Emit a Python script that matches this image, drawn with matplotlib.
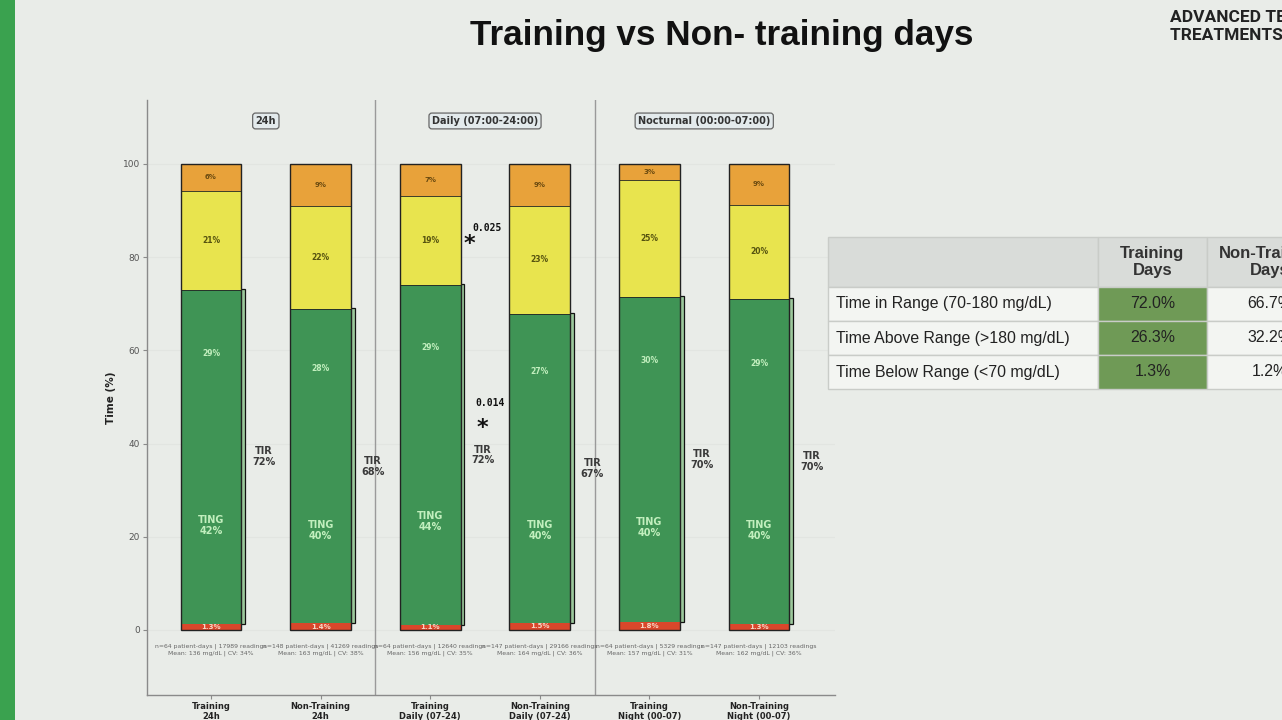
import matplotlib
matplotlib.use("Agg")
import matplotlib.pyplot as plt
from matplotlib.patches import Rectangle
import numpy as np

# ---------------- data ----------------
categories = ["Training\n24h", "Non-Training\n24h", "Training\nDaily (07-24)",
              "Non-Training\nDaily (07-24)", "Training\nNight (00-07)", "Non-Training\nNight (00-07)"]
tbr = [1.3, 1.4, 1.1, 1.5, 1.8, 1.3]          # below range (red)
ting = [42.3, 39.8, 44.2, 39.6, 40.2, 40.0]   # time in narrow range (green low)
titr = [29.4, 27.7, 28.7, 26.7, 29.5, 29.7]   # 140-180 (green high)
tar1 = [21.2, 22.1, 19.1, 23.2, 25.1, 20.2]   # yellow
tar2 = [5.8, 9.0, 6.9, 9.0, 3.4, 8.8]         # orange
tbr_lbl = ["1.3%", "1.4%", "1.1%", "1.5%", "1.8%", "1.3%"]
ting_lbl = ["42%", "40%", "44%", "40%", "40%", "40%"]
titr_lbl = ["29%", "28%", "29%", "27%", "30%", "29%"]
tar1_lbl = ["21%", "22%", "19%", "23%", "25%", "20%"]
tar2_lbl = ["6%", "9%", "7%", "9%", "3%", "9%"]
tir_lbl = ["72%", "68%", "72%", "67%", "70%", "70%"]
info = ["n=64 patient-days | 17989 readings\nMean: 136 mg/dL | CV: 34%",
        "n=148 patient-days | 41269 readings\nMean: 163 mg/dL | CV: 38%",
        "n=64 patient-days | 12640 readings\nMean: 156 mg/dL | CV: 35%",
        "n=147 patient-days | 29166 readings\nMean: 164 mg/dL | CV: 36%",
        "n=64 patient-days | 5329 readings\nMean: 157 mg/dL | CV: 31%",
        "n=147 patient-days | 12103 readings\nMean: 162 mg/dL | CV: 36%"]
groups = ["24h", "Daily (07:00-24:00)", "Nocturnal (00:00-07:00)"]
pvals = ["0.025", "0.014"]
pval_y = [86.3, 48.7]
yticks = [0, 20, 40, 60, 80, 100]

tbl_rows = ["Time in Range (70-180 mg/dL)", "Time Above Range (>180 mg/dL)", "Time Below Range (<70 mg/dL)"]
tbl_cols = ["", "Training\nDays", "Non-Training\nDays"]
tbl_train = ["72.0%", "26.3%", "1.3%"]
tbl_non = ["66.7%", "32.2%", "1.2%"]

# ---------------- style ----------------
BG = "#e9ece8"
C_RED = "#d9472b"
C_GREEN = "#3f9455"
C_YEL = "#e8e44e"
C_ORA = "#e8a23a"

fig = plt.figure(figsize=(12.82, 7.2), dpi=100, facecolor=BG)

# left green strip
fig.patches.append(Rectangle((0, 0), 15 / 1282, 1, transform=fig.transFigure,
                             facecolor="#3aa24f", edgecolor="none", zorder=0))

# title & logo
fig.text(0.563, 0.951, "Training vs Non- training days", ha="center", va="center",
         fontsize=25.3, fontweight="bold", family="Liberation Sans", color="#111111")
for txt, yy in [("ADVANCED TECHNOLOGIES &", 0.976), ("TREATMENTS FOR DIABETES", 0.951)]:
    fig.text(1170 / 1282, yy, txt, ha="left", va="center", fontsize=12.5, fontweight="bold",
             family="Roboto", color="#222222")

# ---------------- main chart ----------------
ax = fig.add_axes([147 / 1282, 1 - 695 / 720, (835 - 147) / 1282, (695 - 100) / 720])
ax.set_facecolor(BG)
x = np.arange(len(categories))
w = 0.555
tbr_a = np.array(tbr); ting_a = np.array(ting); titr_a = np.array(titr)
tar1_a = np.array(tar1); tar2_a = np.array(tar2)
b1 = tbr_a
b2 = b1 + ting_a
b3 = b2 + titr_a
b4 = b3 + tar1_a

# offset shadow outline around TIR
for i in range(len(x)):
    ax.add_patch(Rectangle((x[i] - w / 2 + 0.035, b1[i]), w, ting_a[i] + titr_a[i] + 0.2,
                           facecolor="#9cc89c", edgecolor="#111111", lw=0.9, zorder=2))

kw = dict(width=w, edgecolor="none", zorder=3)
ax.bar(x, tbr_a, color=C_RED, **kw)
ax.bar(x, ting_a, bottom=b1, color=C_GREEN, **kw)
ax.bar(x, titr_a, bottom=b2, color=C_GREEN, **kw)
ax.bar(x, tar1_a, bottom=b3, color=C_YEL, **kw)
ax.bar(x, tar2_a, bottom=b4, color=C_ORA, **kw)
# outline
ax.bar(x, b4 + tar2_a, width=w, facecolor="none", edgecolor="#222222", lw=1.0, zorder=4)
ax.bar(x, b4 - b3, bottom=b3, width=w, facecolor="none", edgecolor="#222222", lw=0.6, zorder=4)

for i in range(len(x)):
    ax.text(x[i], b1[i] / 2, tbr_lbl[i], ha="center", va="center", fontsize=5,
            color="#f6d7c6", fontweight="bold", zorder=5)
    ax.text(x[i], (b1[i] + b2[i]) / 2, "TING\n" + ting_lbl[i], ha="center", va="center",
            fontsize=7, color="#c2efbe", fontweight="bold", zorder=5, linespacing=1.1)
    ax.text(x[i], (b2[i] + b3[i]) / 2 + 1, titr_lbl[i], ha="center", va="center", fontsize=5.5,
            color="#c2efbe", fontweight="bold", zorder=5)
    ax.text(x[i], (b3[i] + b4[i]) / 2, tar1_lbl[i], ha="center", va="center", fontsize=5.5,
            color="#55520f", fontweight="bold", zorder=5)
    ax.text(x[i], (b4[i] + 100) / 2, tar2_lbl[i], ha="center", va="center", fontsize=5,
            color="#6a4a10", fontweight="bold", zorder=5)
    ax.text(x[i] + 0.48, (b1[i] + b3[i]) / 2, "TIR\n" + tir_lbl[i], ha="center", va="center",
            fontsize=7, color="#3a3a3a", fontweight="bold", zorder=5, linespacing=1.1)
    ax.text(x[i], -3.0, info[i], ha="center", va="top", fontsize=4.4, color="#666666",
            zorder=5, linespacing=1.35)

# group separators and labels
for sep in [1.5, 3.5]:
    ax.axvline(sep, color="#9a9a9a", lw=1.0, zorder=1)
for g, name in enumerate(groups):
    ax.text(2 * g + 0.5, 109.2, name, ha="center", va="center", fontsize=7,
            fontweight="bold", color="#333333", zorder=5,
            bbox=dict(boxstyle="round,pad=0.3", facecolor="#e3eaec", edgecolor="#666666", lw=0.9))

# significance annotations between Daily bars
ax.text(2.52, pval_y[0], pvals[0], ha="center", va="center", fontsize=7, family="DejaVu Sans Mono",
        fontweight="bold", color="#111111", zorder=5)
ax.text(2.36, pval_y[0] - 3.6, "*", ha="center", va="center", fontsize=16, fontweight="bold",
        color="#111111", zorder=5)
ax.text(2.545, pval_y[1], pvals[1], ha="center", va="center", fontsize=7, family="DejaVu Sans Mono",
        fontweight="bold", color="#111111", zorder=5)
ax.text(2.48, pval_y[1] - 5.4, "*", ha="center", va="center", fontsize=16, fontweight="bold",
        color="#111111", zorder=5)

ax.set_xlim(-0.584, 5.693)
ax.set_ylim(-13.95, 113.7)
ax.set_yticks(yticks)
ax.set_yticklabels([str(t) for t in yticks], fontsize=6.5, color="#555555")
ax.set_xticks(x)
ax.set_xticklabels(categories, fontsize=6, fontweight="bold", color="#222222", linespacing=1.1)
ax.set_ylabel("Time (%)", fontsize=7.5, fontweight="bold", color="#222222", labelpad=5)
ax.yaxis.grid(True, color="#e2e5e1", lw=0.8, zorder=0)
ax.set_axisbelow(True)
for s in ["top", "right"]:
    ax.spines[s].set_visible(False)
for s in ["left", "bottom"]:
    ax.spines[s].set_color("#8a8a8a")
    ax.spines[s].set_linewidth(1.0)
ax.tick_params(axis="both", length=3, width=0.8, color="#8a8a8a", pad=2)

# ---------------- table ----------------
col_w = [270, 109, 126]
row_h = [50, 34, 34, 34]
tax = fig.add_axes([828 / 1282, 1 - 389 / 720, sum(col_w) / 1282, sum(row_h) / 720])
tax.set_xlim(0, sum(col_w))
tax.set_ylim(sum(row_h), 0)
tax.axis("off")
col_x = np.concatenate([[0], np.cumsum(col_w)])
row_y = np.concatenate([[0], np.cumsum(row_h)])
body = [tbl_rows, tbl_train, tbl_non]
for c in range(3):
    for r in range(4):
        if r == 0:
            fc = "#d9dcd9"
        elif c == 1:
            fc = "#6f9a56"
        else:
            fc = "#f3f5f2"
        tax.add_patch(Rectangle((col_x[c], row_y[r]), col_w[c], row_h[r], facecolor=fc,
                                edgecolor="#c9ccc8", lw=1.0, clip_on=False))
        if r == 0:
            txt = tbl_cols[c]
            if txt:
                tax.text(col_x[c] + col_w[c] / 2, row_y[r] + row_h[r] / 2, txt, ha="center",
                         va="center", fontsize=12, fontweight="bold", color="#333333",
                         family="Liberation Sans", linespacing=1.15, clip_on=False)
        else:
            txt = body[c][r - 1]
            if c == 0:
                tax.text(col_x[c] + 8, row_y[r] + row_h[r] / 2, txt, ha="left", va="center",
                         fontsize=11.4, color="#222222", family="Liberation Sans", clip_on=False)
            else:
                tax.text(col_x[c] + col_w[c] / 2, row_y[r] + row_h[r] / 2, txt, ha="center",
                         va="center", fontsize=11.4, color="#222222", family="Liberation Sans",
                         clip_on=False)

fig.savefig("out.png", dpi=100, facecolor=BG)
